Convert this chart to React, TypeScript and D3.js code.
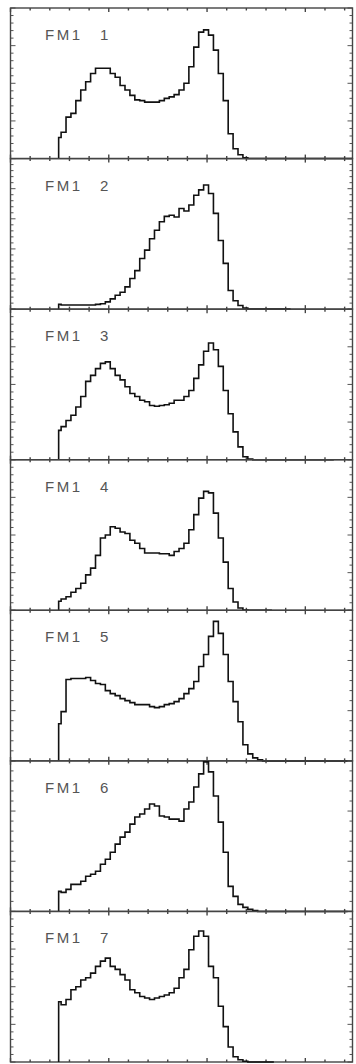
import React from "react";
import * as d3 from "d3";

// ---- data ----
const panelLabels = ["1", "2", "3", "4", "5", "6", "7"];
const yMaxes = [200, 250, 200, 200, 150, 150, 200];
const tailEnds = [3.48, 2.85, 3.29, 2.66, 3.43, 3.43, 2.68];
const BIN_START = 0.49;
const BIN_W = 0.05;

const counts1 = [28, 35, 55, 60, 77, 91, 102, 113, 120, 120, 120, 113, 108, 97, 91, 84, 78, 77, 75, 75, 75, 77, 80, 82, 85, 91, 100, 122, 148, 168, 171, 164, 144, 113, 77, 33, 13, 5, 1];
const counts2 = [8, 7, 7, 7, 7, 7, 7, 7, 8, 9, 12, 17, 23, 28, 37, 51, 64, 84, 98, 117, 131, 145, 154, 156, 153, 167, 163, 173, 189, 198, 206, 192, 159, 114, 76, 31, 14, 6, 2];
const counts3 = [39, 44, 52, 59, 70, 84, 104, 112, 121, 128, 130, 121, 112, 106, 97, 88, 84, 79, 77, 72, 71, 72, 73, 75, 79, 79, 84, 92, 108, 126, 144, 155, 146, 124, 92, 61, 37, 17, 4, 1];
const counts4 = [12, 15, 18, 24, 29, 36, 47, 56, 73, 96, 100, 111, 109, 104, 102, 93, 89, 82, 76, 76, 76, 75, 75, 73, 78, 82, 89, 107, 127, 149, 158, 156, 129, 96, 64, 29, 11, 3, 0.4];
const counts5 = [37, 49, 81, 82, 82, 82, 83, 80, 77, 76, 70, 67, 65, 62, 60, 58, 56, 56, 56, 54, 53, 54, 56, 57, 59, 62, 67, 72, 79, 94, 106, 124, 139, 127, 106, 79, 59, 39, 16, 7, 3, 1];
const counts6 = [20, 19, 22, 27, 27, 30, 35, 37, 40, 47, 52, 59, 67, 74, 79, 87, 94, 97, 102, 107, 105, 95, 94, 92, 92, 90, 102, 109, 124, 137, 149, 139, 115, 89, 59, 25, 15, 7, 4, 2, 1];
const counts7 = [80, 76, 83, 96, 100, 109, 112, 118, 127, 134, 138, 127, 123, 116, 109, 96, 92, 87, 85, 83, 85, 87, 89, 92, 98, 112, 123, 149, 167, 174, 167, 127, 112, 74, 47, 20, 7, 3, 1];
const panelCounts = [counts1, counts2, counts3, counts4, counts5, counts6, counts7];

const xMajorTicks = [0, 1, 2, 3];
const X_DOMAIN = [0, 3.48];

// ---- layout ----
const W = 356;
const H = 1064;
const LEFT = 10.5;
const RIGHT = 352.5;
const TOP = 8;
const BOTTOM = 1062;
const PANEL_H = (BOTTOM - TOP) / panelLabels.length;

export default function App() {
  const x = d3.scaleLinear().domain(X_DOMAIN).range([LEFT, RIGHT]);
  const xMinor = d3.range(0, 3.48 + 1e-9, 0.2);

  return (
    <div style={{ position: "absolute", left: 0, top: 0 }}>
      <svg width={W} height={H} style={{ display: "block", background: "#fff" }}>
        {panelLabels.map((lab, i) => {
          const top = TOP + i * PANEL_H;
          const bot = top + PANEL_H;
          const yMax = yMaxes[i];
          const y = d3.scaleLinear().domain([0, yMax]).range([bot, top]);
          const data = panelCounts[i];
          const pts: [number, number][] = [[BIN_START, 0]];
          data.forEach((c, k) => pts.push([BIN_START + k * BIN_W, c]));
          pts.push([BIN_START + data.length * BIN_W, 0]);
          pts.push([tailEnds[i], 0]);
          const line = d3
            .line<[number, number]>()
            .x((d) => x(d[0]))
            .y((d) => y(d[1]))
            .curve(d3.curveStep);
          const yMinor = d3.range(0, yMax + 1e-9, 10);
          return (
            <g key={lab}>
              {yMinor.map((v) => {
                const major = v % 50 === 0;
                const len = major ? 5 : 3;
                const yy = y(v);
                return (
                  <g key={"y" + v} stroke="#555" strokeWidth={1}>
                    <line x1={LEFT} x2={LEFT + len} y1={yy} y2={yy} />
                    <line x1={RIGHT} x2={RIGHT - len} y1={yy} y2={yy} />
                  </g>
                );
              })}
              {xMinor.map((v) => {
                const major = xMajorTicks.some((m) => Math.abs(m - v) < 1e-6);
                const len = major ? 4 : 2.5;
                const xx = x(v);
                return (
                  <g key={"x" + v} stroke="#444" strokeWidth={1.4}>
                    <line x1={xx} x2={xx} y1={bot} y2={bot - len} />
                    <line x1={xx} x2={xx} y1={top} y2={top + len} />
                  </g>
                );
              })}
              <rect x={LEFT} y={top} width={RIGHT - LEFT} height={PANEL_H} fill="none" stroke="#444" strokeWidth={1.4} />
              <path d={line(pts) || ""} fill="none" stroke="#111" strokeWidth={1.6} strokeLinejoin="miter" />
              <text x={45} y={top + 32} fontFamily="Liberation Sans, Arial, sans-serif" fontSize={15} fill="#555" letterSpacing={2.5}>
                FM1
              </text>
              <text x={100} y={top + 32} fontFamily="Liberation Sans, Arial, sans-serif" fontSize={15} fill="#555">
                {lab}
              </text>
            </g>
          );
        })}
      </svg>
    </div>
  );
}
